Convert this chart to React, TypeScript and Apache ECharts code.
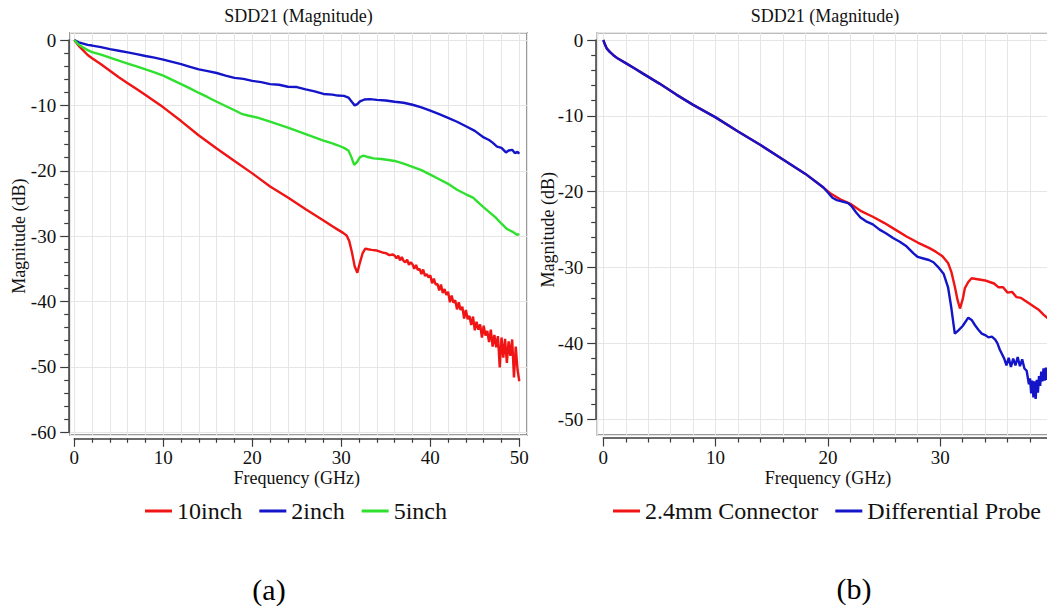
import { useEffect, useRef } from "react";
import * as echarts from "echarts";

// ---------------- Panel (a): SDD21 magnitude, three trace lengths ----------------
const seriesNamesA = ["10inch", "2inch", "5inch"];
const seriesColorsA = ["#f01414", "#1414c8", "#2fe02f"];

const freqA10 = [0, 0.5, 1, 1.5, 2, 3, 4, 5, 6, 7, 8, 10, 12, 14, 16, 18, 20, 22, 24, 26, 28, 29, 29.6, 30.2, 30.6, 30.9, 31.2, 31.5, 31.8, 32.1, 32.4, 32.7, 33.0, 33.4, 34.0, 34.6, 35.0, 35.4, 35.8,
  36.0, 36.2, 36.4, 36.6, 36.8, 37.0, 37.2, 37.4, 37.6, 37.8, 38.0, 38.2, 38.4, 38.6, 38.8, 39.0, 39.2, 39.4, 39.6, 39.8,
  40.0, 40.2, 40.4, 40.6, 40.8, 41.0, 41.2, 41.4, 41.6, 41.8, 42.0, 42.2, 42.4, 42.6, 42.8, 43.0, 43.2, 43.4, 43.6, 43.8,
  44.0, 44.2, 44.4, 44.6, 44.8, 45.0, 45.2, 45.4, 45.6, 45.8, 46.0, 46.2, 46.4, 46.6, 46.8, 47.0, 47.2, 47.4, 47.6, 47.8,
  48.0, 48.2, 48.4, 48.6, 48.8, 49.0, 49.2, 49.4, 49.6, 49.8, 50.0];
const magA10 = [0, -0.9, -1.6, -2.3, -2.8, -3.7, -4.7, -5.7, -6.6, -7.5, -8.4, -10.3, -12.4, -14.6, -16.6, -18.5, -20.4, -22.4, -24.1, -25.9, -27.6, -28.5, -29.0, -29.5, -29.9, -30.8, -32.5, -34.6, -35.6, -34.0, -32.6, -31.9, -32.0, -32.1, -32.2, -32.5, -32.6, -32.9, -32.8,
  -33.0, -33.4, -33.0, -33.7, -33.2, -33.8, -34.0, -33.6, -34.4, -34.0, -34.3, -35.0, -34.4, -35.2, -35.0, -35.8, -35.1, -36.1, -35.8, -36.3,
  -36.0, -37.2, -36.5, -37.4, -37.3, -38.3, -37.4, -38.7, -38.1, -39.0, -38.5, -40.1, -39.1, -40.2, -39.8, -41.2, -40.1, -41.3, -40.8, -42.6,
  -41.3, -42.7, -42.2, -43.6, -42.3, -44.4, -43.1, -44.3, -43.5, -45.5, -43.7, -45.2, -44.5, -46.2, -44.3, -46.9, -45.1, -47.0, -45.3, -50.1,
  -45.5, -48.6, -45.7, -49.4, -46.1, -48.3, -45.8, -51.6, -46.9, -50.4, -52.2];

const freqA2 = [0, 0.5, 1, 1.5, 2, 3, 4, 5, 6, 7, 8, 9, 10, 11, 12, 13, 14, 15, 16, 17, 18, 19, 20, 21, 22, 23, 24, 25, 26, 27, 28, 29,
  29.6, 30.3, 30.8, 31.2, 31.5, 31.8, 32.1, 32.6, 33.2, 34, 35, 36, 37, 38, 39, 40, 41, 42, 43, 44, 45, 46,
  46.6, 47, 47.5, 48, 48.5, 48.8, 49.2, 49.5, 49.8, 50];
const magA2 = [0, -0.35, -0.55, -0.75, -0.85, -1.1, -1.4, -1.65, -1.9, -2.15, -2.45, -2.7, -3.0, -3.35, -3.7, -4.1, -4.5, -4.75, -5.05, -5.45, -5.8, -5.95, -6.25, -6.45, -6.75, -6.85, -7.15, -7.2, -7.55, -7.85, -8.25, -8.35,
  -8.5, -8.55, -8.8, -9.5, -10.0, -9.8, -9.4, -9.1, -9.05, -9.15, -9.25, -9.45, -9.6, -9.9, -10.3, -10.8, -11.35, -11.9, -12.5, -13.2, -13.9, -14.9,
  -15.3, -15.7, -16.3, -16.5, -17.2, -16.9, -16.8, -17.3, -17.1, -17.4];

const freqA5 = [0, 0.5, 1, 1.5, 2, 3, 4, 5, 6, 7, 8, 9, 10, 11, 12, 13, 14, 15, 16, 17, 18, 18.9, 19.5, 20.5, 22, 23, 24, 25, 26, 27, 28, 29,
  29.6, 30.3, 30.8, 31.1, 31.45, 31.8, 32.1, 32.5, 33.0, 33.6, 34.5, 35.3, 36, 37, 38, 39, 40, 41, 42, 43, 44,
  44.8, 45.5, 46, 46.7, 47.3, 48, 48.6, 49.2, 49.75, 50];
const magA5 = [0, -0.7, -1.15, -1.55, -1.85, -2.25, -2.7, -3.15, -3.6, -4.05, -4.5, -4.95, -5.45, -6.1, -6.75, -7.4, -8.1, -8.75, -9.45, -10.1, -10.75, -11.35, -11.55, -11.85, -12.5, -12.95, -13.4, -13.9, -14.4, -14.9, -15.4, -15.8,
  -16.1, -16.5, -16.9, -17.8, -19.1, -18.6, -17.9, -17.7, -17.9, -18.1, -18.2, -18.35, -18.5, -18.9, -19.4, -19.9, -20.6, -21.3, -22.0, -22.9, -23.6,
  -24.1, -25.0, -25.6, -26.4, -27.1, -28.1, -28.9, -29.3, -29.8, -29.7];

// ---------------- Panel (b): connector vs probe ----------------
const seriesNamesB = ["2.4mm Connector", "Differential Probe"];
const seriesColorsB = ["#f01414", "#1414c8"];

const freqBConn = [0, 0.15, 0.3, 0.6, 0.9, 1.3, 2.0, 2.8, 3.5, 5, 6.5, 8, 10, 12, 14, 16, 18, 19.6, 20.2, 21.1,
  22, 23, 24, 25, 26, 27, 28, 29, 29.6, 30.2, 30.7, 31.0, 31.3, 31.55, 31.76, 32.0, 32.2, 32.5, 32.8, 33.2, 33.6,
  34.0, 34.4, 34.8, 35.2, 35.6, 36.0, 36.4, 36.8, 37.2, 37.6, 38.0, 38.4, 38.8, 39.2, 39.6];
const magBConn = [0, -0.6, -1.1, -1.6, -2.0, -2.45, -3.05, -3.75, -4.4, -5.75, -7.2, -8.55, -10.2, -12.05, -13.85, -15.75, -17.65, -19.45, -20.2, -21.0,
  -21.6, -22.6, -23.3, -24.1, -25.0, -25.9, -26.7, -27.4, -27.9, -28.5, -29.4, -30.6, -32.5, -34.3, -35.4, -34.2, -32.7, -31.9, -31.4, -31.5, -31.6,
  -31.7, -31.9, -32.1, -32.6, -32.6, -33.3, -33.2, -33.9, -34.0, -34.4, -34.8, -35.2, -35.6, -36.2, -36.7];

const freqBProbe = [0, 0.15, 0.3, 0.6, 0.9, 1.3, 2.0, 2.8, 3.5, 5, 6.5, 8, 10, 12, 14, 16, 18, 19.6,
  20.0, 20.4, 20.8, 21.3, 21.8, 22.1, 22.5, 22.9, 23.4, 24.0,
  24.6, 25.2, 25.8, 26.4, 27.0, 27.6, 28.0, 28.5, 29.0, 29.4,
  29.8, 30.3, 30.7, 31.0, 31.3, 31.6, 32.0, 32.5, 32.8, 33.1,
  33.4, 33.7, 34.0, 34.3, 34.6, 34.9, 35.1, 35.3, 35.5, 35.7,
  35.9, 36.1, 36.3, 36.5, 36.7, 36.9, 37.1, 37.3, 37.5, 37.7,
  37.9, 38.0, 38.1, 38.2, 38.3, 38.4, 38.5, 38.6, 38.7, 38.8,
  38.9, 39.0, 39.1, 39.2, 39.3, 39.4, 39.5, 39.6];
const magBProbe = [0, -0.6, -1.1, -1.6, -2.0, -2.45, -3.05, -3.75, -4.4, -5.75, -7.2, -8.55, -10.2, -12.05, -13.85, -15.75, -17.65, -19.45,
  -20.1, -20.8, -21.1, -21.3, -21.5, -21.9, -22.7, -23.4, -23.9, -24.3,
  -25.0, -25.5, -26.1, -26.6, -27.2, -28.1, -28.6, -28.8, -29.0, -29.3,
  -29.9, -30.8, -32.6, -35.4, -38.7, -38.3, -37.7, -36.6, -36.9, -37.6,
  -38.2, -38.7, -38.9, -39.2, -39.1, -39.5, -40.0, -40.8, -41.4, -42.0,
  -42.9, -41.9, -43.1, -42.0, -42.9, -41.8, -43.0, -42.1, -43.3, -43.6,
  -45.4, -44.6, -46.6, -44.9, -47.1, -45.0, -47.3, -44.8, -46.5, -44.3,
  -45.6, -43.7, -45.0, -43.3, -44.9, -43.2, -44.8, -43.6];

// ---------------- texts / axis ranges ----------------
const panelTitles = ["SDD21 (Magnitude)", "SDD21 (Magnitude)"];
const panelCaptions = ["(a)", "(b)"];
const xAxisName = "Frequency (GHz)";
const yAxisName = "Magnitude (dB)";
const xRangeA: [number, number] = [0, 50];
const yRangeA: [number, number] = [-60, 0];
const xRangeB: [number, number] = [0, 40];
const yRangeB: [number, number] = [-50, 0];
const xTickStep = 10;
const yTickStep = 10;
const gridStepX = 2;

const FONT = "'Liberation Serif', 'Times New Roman', Times, serif";
const TEXT = "#111111";
const AXIS = "#3c3c3c";
const FRAME = "#7a7a7a";
const GRIDC = "#e6e6e6";

type Panel = {
  axLeft: number; axTop: number; pxX: number; pxY: number;
  xRange: [number, number]; yRange: [number, number];
  frame: { l: number; t: number; r: number; b: number };
  yOffset: number; xOffset: number; yNameGap: number; xNameGap: number;
  hideMaxX: boolean;
  titleX: number; captionX: number; captionY: number; legendLeft: number;
};

const panels: Panel[] = [
  {
    axLeft: 74.3, axTop: 40, pxX: 8.9, pxY: 6.538,
    xRange: xRangeA, yRange: yRangeA,
    frame: { l: 70, t: 32.7, r: 527, b: 435 },
    yOffset: 5.6, xOffset: 6, yNameGap: 40.6, xNameGap: 30.5, hideMaxX: false,
    titleX: 298.5, captionX: 269, captionY: 589, legendLeft: 145,
  },
  {
    axLeft: 603.3, axTop: 40, pxX: 11.23, pxY: 7.586,
    xRange: xRangeB, yRange: yRangeB,
    frame: { l: 597.3, t: 32.7, r: 1060, b: 435 },
    yOffset: 7.6, xOffset: 18.7, yNameGap: 38.4, xNameGap: 30.5, hideMaxX: true,
    titleX: 825, captionX: 854, captionY: 588, legendLeft: 613,
  },
];

const zip = (f: number[], m: number[]) => f.map((x, i) => [x, m[i]]);

function buildOption() {
  const grid: any[] = [];
  const xAxis: any[] = [];
  const yAxis: any[] = [];
  panels.forEach((p) => {
    const aw = (p.xRange[1] - p.xRange[0]) * p.pxX;
    const ah = (p.yRange[1] - p.yRange[0]) * p.pxY;
    const fGrid = grid.length;
    grid.push({
      left: p.frame.l, top: p.frame.t, width: p.frame.r - p.frame.l, height: p.frame.b - p.frame.t,
      show: true, borderColor: FRAME, borderWidth: 1.5, backgroundColor: "transparent",
      containLabel: false, outerBoundsMode: "none",
    });
    grid.push({
      left: p.axLeft, top: p.axTop, width: aw, height: ah, show: false,
      containLabel: false, outerBoundsMode: "none",
    });
    const fxMin = p.xRange[0] - (p.axLeft - p.frame.l) / p.pxX;
    const fxMax = p.xRange[0] + (p.frame.r - p.axLeft) / p.pxX;
    const fyMax = p.yRange[1] + (p.axTop - p.frame.t) / p.pxY;
    const fyMin = p.yRange[1] - (p.frame.b - p.axTop) / p.pxY;
    // frame axes: only the light grid lines
    xAxis.push({
      type: "value", gridIndex: fGrid, min: fxMin, max: fxMax,
      minInterval: gridStepX, maxInterval: gridStepX, splitNumber: 25,
      axisLine: { show: false }, axisTick: { show: false }, axisLabel: { show: false },
      splitLine: { show: true, lineStyle: { color: GRIDC, width: 1 } },
    });
    yAxis.push({
      type: "value", gridIndex: fGrid, min: fyMin, max: fyMax,
      minInterval: yTickStep, maxInterval: yTickStep, splitNumber: 6,
      axisLine: { show: false }, axisTick: { show: false }, axisLabel: { show: false },
      splitLine: { show: true, lineStyle: { color: GRIDC, width: 1 } },
    });
    // visible axes
    xAxis.push({
      type: "value", gridIndex: fGrid + 1, position: "bottom", offset: p.xOffset,
      min: p.xRange[0], max: p.xRange[1], interval: xTickStep,
      axisLine: { show: true, onZero: false, lineStyle: { color: AXIS, width: 1.5 } },
      axisTick: { show: true, length: 8.5, lineStyle: { color: AXIS, width: 1.2 } },
      minorTick: { show: true, splitNumber: 5, length: 4.5, lineStyle: { color: AXIS, width: 1.2 } },
      axisLabel: { show: true, margin: 10, fontSize: 19, fontFamily: FONT, color: TEXT, showMaxLabel: !p.hideMaxX },
      splitLine: { show: false },
      name: xAxisName, nameLocation: "middle", nameGap: p.xNameGap, nameMoveOverlap: false,
      nameTextStyle: { fontSize: 18, fontFamily: FONT, color: TEXT },
    });
    yAxis.push({
      type: "value", gridIndex: fGrid + 1, position: "left", offset: p.yOffset,
      min: p.yRange[0], max: p.yRange[1], interval: yTickStep,
      axisLine: { show: true, onZero: false, lineStyle: { color: AXIS, width: 1.5 } },
      axisTick: { show: true, length: 8.5, lineStyle: { color: AXIS, width: 1.2 } },
      minorTick: { show: true, splitNumber: 5, length: 4.5, lineStyle: { color: AXIS, width: 1.2 } },
      axisLabel: { show: true, margin: 12.5, fontSize: 19, fontFamily: FONT, color: TEXT },
      splitLine: { show: false },
      name: yAxisName, nameLocation: "middle", nameGap: p.yNameGap, nameRotate: 90, nameMoveOverlap: false,
      nameTextStyle: { fontSize: 18, fontFamily: FONT, color: TEXT },
    });
  });

  const line = (name: string, color: string, data: number[][], axisIdx: number) => ({
    name, type: "line", xAxisIndex: axisIdx, yAxisIndex: axisIdx, data,
    showSymbol: false, symbol: "none", color, itemStyle: { color },
    lineStyle: { color, width: 2.4 }, clip: true, silent: true,
  });

  const series = [
    line(seriesNamesA[0], seriesColorsA[0], zip(freqA10, magA10), 0),
    line(seriesNamesA[1], seriesColorsA[1], zip(freqA2, magA2), 0),
    line(seriesNamesA[2], seriesColorsA[2], zip(freqA5, magA5), 0),
    line(seriesNamesB[0], seriesColorsB[0], zip(freqBConn, magBConn), 2),
    line(seriesNamesB[1], seriesColorsB[1], zip(freqBProbe, magBProbe), 2),
  ];

  const legendBase = {
    orient: "horizontal", top: 499, padding: 0, itemGap: 17, itemWidth: 27, itemHeight: 3,
    icon: "rect", selectedMode: false,
    textStyle: { fontSize: 24, fontFamily: FONT, color: TEXT },
  };

  const graphic: any[] = [];
  panels.forEach((p, i) => {
    graphic.push({
      type: "text", x: p.titleX, y: 16, silent: true,
      style: { text: panelTitles[i], font: `18px ${FONT}`, fill: TEXT, align: "center", verticalAlign: "middle", textAlign: "center", textVerticalAlign: "middle" },
    });
    graphic.push({
      type: "text", x: p.captionX, y: p.captionY, silent: true,
      style: { text: panelCaptions[i], font: `30px ${FONT}`, fill: "#000", align: "center", verticalAlign: "middle", textAlign: "center", textVerticalAlign: "middle" },
    });
  });

  return {
    animation: false,
    backgroundColor: "#ffffff",
    textStyle: { fontFamily: FONT },
    grid, xAxis, yAxis, series,
    legend: [
      { ...legendBase, left: panels[0].legendLeft, data: seriesNamesA },
      { ...legendBase, left: panels[1].legendLeft, data: seriesNamesB },
    ],
    graphic,
  };
}

const App = () => {
  const ref = useRef<HTMLDivElement>(null);
  useEffect(() => {
    if (!ref.current) return;
    const chart = echarts.init(ref.current, null, { renderer: "svg" });
    chart.setOption(buildOption() as any);
    return () => chart.dispose();
  }, []);
  return (
    <div
      ref={ref}
      style={{ position: "absolute", left: 0, top: 0, width: 1047, height: 607, background: "#fff" }}
    />
  );
};

export default App;
